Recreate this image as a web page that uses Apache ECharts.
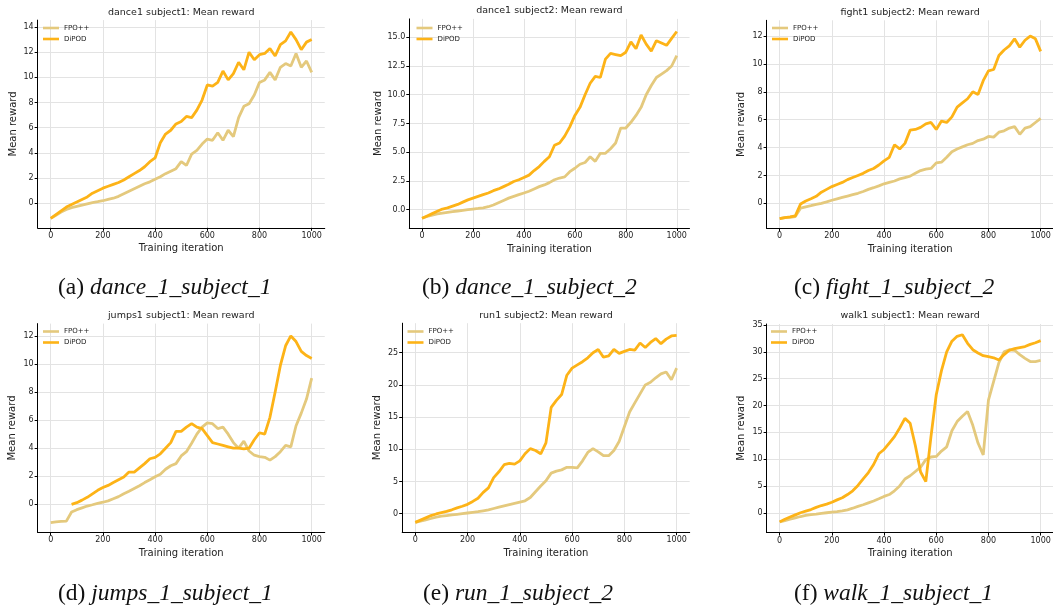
<!DOCTYPE html>
<html><head><meta charset="utf-8">
<script src="https://cdn.jsdelivr.net/npm/echarts@6/dist/echarts.min.js"></script>
<style>html,body{margin:0;padding:0;background:#fff}#c{width:1053px;height:612px}</style>
</head><body><div id="c"></div>
<script>
// ---------------- data ----------------
const iters = [0,20,40,60,80,100,120,140,160,180,200,220,240,260,280,300,320,340,360,380,400,
  420,440,460,480,500,520,540,560,580,600,620,640,660,680,700,720,740,760,780,800,
  820,840,860,880,900,920,940,960,980,1000];

const xTicks = [0,200,400,600,800,1000];
const seriesNames = ['FPO++','DiPOD'];

const panelTitles = ['dance1 subject1: Mean reward','dance1 subject2: Mean reward','fight1 subject2: Mean reward',
  'jumps1 subject1: Mean reward','run1 subject2: Mean reward','walk1 subject1: Mean reward'];
const captionLetters = ['(a)','(b)','(c)','(d)','(e)','(f)'];
const captionNames = ['dance_1_subject_1','dance_1_subject_2','fight_1_subject_2','jumps_1_subject_1','run_1_subject_2','walk_1_subject_1'];

const yTicksA = [0,2,4,6,8,10,12,14];
const yTicksB = [0,2.5,5,7.5,10,12.5,15];
const yTicksC = [0,2,4,6,8,10,12];
const yTicksD = [0,2,4,6,8,10,12];
const yTicksE = [0,5,10,15,20,25];
const yTicksF = [0,5,10,15,20,25,30,35];

const dance1s1Fpo = [-1.2,-0.95,-0.7,-0.5,-0.35,-0.25,-0.15,-0.05,0.05,0.12,0.2,0.3,0.4,0.55,0.75,0.95,1.15,1.35,1.55,1.7,1.9,
  2.1,2.35,2.55,2.75,3.3,3.0,3.9,4.2,4.7,5.1,5.0,5.6,5.0,5.8,5.3,6.8,7.7,7.9,8.6,9.6,9.8,10.4,9.8,10.8,11.1,10.9,11.9,10.8,11.3,10.4];
const dance1s1Dipod = [-1.2,-0.9,-0.6,-0.3,-0.1,0.1,0.3,0.5,0.8,1.0,1.2,1.35,1.5,1.65,1.85,2.1,2.35,2.6,2.9,3.3,3.6,
  4.8,5.5,5.8,6.3,6.5,6.9,6.8,7.4,8.2,9.4,9.3,9.6,10.5,9.8,10.3,11.2,10.6,12.0,11.4,11.8,11.9,12.3,11.7,12.6,12.9,13.6,13.0,12.2,12.8,13.0];

const dance1s2Fpo = [-0.75,-0.6,-0.48,-0.38,-0.3,-0.24,-0.18,-0.12,-0.06,0.0,0.05,0.1,0.16,0.25,0.4,0.6,0.8,1.0,1.15,1.3,1.45,
  1.6,1.8,2.0,2.15,2.35,2.6,2.75,2.85,3.3,3.6,3.95,4.1,4.6,4.2,4.9,4.9,5.3,5.8,7.1,7.1,7.6,8.2,8.9,10.0,10.8,11.5,11.8,12.1,12.5,13.4];
const dance1s2Dipod = [-0.75,-0.55,-0.35,-0.15,0.05,0.15,0.3,0.45,0.65,0.85,1.0,1.15,1.3,1.45,1.65,1.8,2.0,2.2,2.45,2.6,2.8,
  3.0,3.4,3.75,4.2,4.6,5.6,5.8,6.4,7.2,8.2,8.9,10.0,11.0,11.6,11.5,13.1,13.6,13.5,13.4,13.7,14.6,14.0,15.2,14.4,13.8,14.7,14.5,14.3,14.9,15.5];

const fight1s2Fpo = [-1.1,-1.03,-1.0,-0.95,-0.35,-0.25,-0.17,-0.08,0.0,0.1,0.22,0.32,0.42,0.52,0.62,0.72,0.85,1.0,1.12,1.25,1.4,
  1.5,1.6,1.75,1.85,1.95,2.15,2.35,2.45,2.5,2.9,2.95,3.3,3.7,3.9,4.05,4.2,4.3,4.5,4.6,4.8,4.75,5.1,5.2,5.4,5.5,4.95,5.4,5.5,5.8,6.1];
const fight1s2Dipod = [-1.1,-1.02,-0.98,-0.9,-0.05,0.17,0.33,0.5,0.8,1.0,1.2,1.35,1.5,1.7,1.85,2.0,2.15,2.35,2.5,2.75,3.05,
  3.3,4.2,3.9,4.3,5.25,5.3,5.45,5.7,5.8,5.3,5.9,5.8,6.2,6.9,7.2,7.5,8.0,7.8,8.8,9.5,9.6,10.6,11.0,11.3,11.8,11.2,11.7,12.0,11.8,10.9];

const jumps1s1Fpo = [-1.3,-1.25,-1.22,-1.2,-0.55,-0.38,-0.25,-0.12,-0.03,0.07,0.15,0.25,0.4,0.55,0.75,0.93,1.13,1.33,1.55,1.75,1.97,
  2.15,2.5,2.75,2.9,3.45,3.75,4.35,5.0,5.5,5.8,5.75,5.4,5.5,5.0,4.4,4.0,4.5,3.8,3.5,3.4,3.35,3.15,3.4,3.75,4.2,4.1,5.6,6.5,7.5,9.0];
const jumps1s1Dipod = [null,null,null,null,0.0,0.12,0.3,0.5,0.75,1.0,1.2,1.35,1.55,1.75,1.95,2.3,2.3,2.6,2.9,3.25,3.35,
  3.6,4.0,4.4,5.2,5.2,5.5,5.75,5.5,5.4,4.9,4.4,4.3,4.2,4.1,4.0,4.0,3.95,4.0,4.6,5.1,5.0,6.2,8.0,9.9,11.3,12.0,11.6,10.9,10.6,10.4];

const run1s2Fpo = [-1.35,-1.15,-0.95,-0.75,-0.55,-0.4,-0.3,-0.2,-0.1,0.0,0.1,0.2,0.3,0.45,0.6,0.8,1.0,1.2,1.4,1.6,1.8,
  2.0,2.5,3.4,4.3,5.1,6.3,6.6,6.8,7.2,7.2,7.1,8.2,9.5,10.1,9.6,9.0,9.0,9.8,11.2,13.5,15.8,17.2,18.6,20.0,20.4,21.1,21.7,22.0,20.8,22.6];
const run1s2Dipod = [-1.35,-1.0,-0.65,-0.3,-0.05,0.15,0.35,0.6,0.9,1.15,1.45,1.9,2.4,3.3,4.0,5.6,6.5,7.6,7.8,7.7,8.2,
  9.3,10.1,9.8,9.3,11.0,16.5,17.6,18.5,21.5,22.6,23.1,23.6,24.2,25.0,25.5,24.3,24.5,25.5,24.9,25.2,25.5,25.4,26.5,25.8,26.6,27.2,26.4,27.1,27.6,27.7];

const walk1s1Fpo = [-1.7,-1.45,-1.2,-0.95,-0.7,-0.5,-0.35,-0.25,-0.1,0.0,0.1,0.2,0.35,0.55,0.85,1.2,1.5,1.85,2.2,2.6,3.05,
  3.4,4.1,5.0,6.3,6.9,7.7,8.5,9.9,10.4,10.5,11.5,12.3,15.3,17.0,18.0,18.9,16.3,13.0,10.8,21.0,24.5,28.0,30.0,30.4,30.3,29.5,28.8,28.2,28.2,28.4];
const walk1s1Dipod = [-1.7,-1.2,-0.8,-0.4,0.0,0.3,0.6,1.0,1.35,1.6,1.95,2.4,2.8,3.4,4.1,5.1,6.3,7.5,9.0,11.0,11.8,
  13.0,14.2,15.8,17.6,16.7,12.5,7.6,5.8,14.3,22.0,26.5,30.0,32.0,32.9,33.2,31.6,30.4,29.8,29.3,29.1,28.9,28.5,29.5,30.3,30.6,30.8,31.0,31.4,31.7,32.1];

// ---------------- layout / style ----------------
const FPO_COLOR = '#E4C97D';
const DIPOD_COLOR = '#FDB317';
const SANS = 'DejaVu Sans';
const SERIF = 'Liberation Serif';

const panels = [
  {fpo: dance1s1Fpo, dipod: dance1s1Dipod, yTicks: yTicksA, ylim:[-1.95,14.55], dec:0, box:[37.65,20.1,287.1,207.7], yGap:19.5, cap:[58,288], leg:[43,24]},
  {fpo: dance1s2Fpo, dipod: dance1s2Dipod, yTicks: yTicksB, ylim:[-1.6,16.6], dec:1, box:[409.3,18.9,280.2,209.1], yGap:25, cap:[422,288], leg:[416.5,24]},
  {fpo: fight1s2Fpo, dipod: fight1s2Dipod, yTicks: yTicksC, ylim:[-1.8,13.13], dec:0, box:[766.6,20.3,287.1,208.1], yGap:20, cap:[794,288], leg:[772,24]},
  {fpo: jumps1s1Fpo, dipod: jumps1s1Dipod, yTicks: yTicksD, ylim:[-2.0,12.88], dec:0, box:[37.65,323.6,287.1,208.8], yGap:20, cap:[58,594], leg:[43,327.5]},
  {fpo: run1s2Fpo, dipod: run1s2Dipod, yTicks: yTicksE, ylim:[-2.88,29.58], dec:0, box:[402.2,323.2,287.5,209], yGap:19.5, cap:[423,594], leg:[407.5,327.5]},
  {fpo: walk1s1Fpo, dipod: walk1s1Dipod, yTicks: yTicksF, ylim:[-3.7,35.2], dec:0, box:[766.6,324,287.1,208.6], yGap:20, cap:[794,594], leg:[771,327.5]},
];

const grids = [], xAxes = [], yAxes = [], series = [], legends = [], graphics = [];
panels.forEach((p, i) => {
  const [l, t, w, h] = p.box;
  grids.push({left: l, top: t, width: w, height: h, outerBoundsMode: 'none', containLabel: false});
  xAxes.push({
    type: 'value', gridIndex: i, min: -50, max: 1050,
    name: 'Training iteration', nameLocation: 'middle', nameGap: 16,
    nameTextStyle: {fontFamily: SANS, fontSize: 10, color: '#222'},
    axisLine: {show: true, onZero: false, lineStyle: {color: '#000', width: 1}},
    axisTick: {show: true, customValues: xTicks, length: 3, lineStyle: {color: '#000'}},
    axisLabel: {customValues: xTicks, fontFamily: SANS, fontSize: 8, color: '#222', margin: 4,
      formatter: v => String(Math.round(v))},
    splitLine: {show: true, lineStyle: {color: '#e3e3e3', width: 1}}
  });
  yAxes.push({
    type: 'value', gridIndex: i, min: p.ylim[0], max: p.ylim[1],
    name: 'Mean reward', nameLocation: 'middle', nameGap: p.yGap,
    nameTextStyle: {fontFamily: SANS, fontSize: 10, color: '#222'},
    axisLine: {show: true, onZero: false, lineStyle: {color: '#000', width: 1}},
    axisTick: {show: true, customValues: p.yTicks, length: 3, lineStyle: {color: '#000'}},
    axisLabel: {customValues: p.yTicks, fontFamily: SANS, fontSize: 8, color: '#222', margin: 4,
      formatter: v => Number(v).toFixed(p.dec)},
    splitLine: {show: true, lineStyle: {color: '#e3e3e3', width: 1}}
  });
  [[p.fpo, FPO_COLOR, 0], [p.dipod, DIPOD_COLOR, 1]].forEach(([vals, col, k]) => {
    const data = [];
    iters.forEach((x, j) => { if (vals[j] !== null) data.push([x, vals[j]]); });
    series.push({
      type: 'line', name: seriesNames[k], xAxisIndex: i, yAxisIndex: i, data: data,
      showSymbol: false, symbol: 'none', smooth: false, z: 2 + k,
      lineStyle: {color: col, width: 2.8}, itemStyle: {color: col}
    });
  });
  legends.push({
    data: seriesNames, left: p.leg[0], top: p.leg[1], orient: 'vertical',
    icon: 'rect', itemWidth: 16, itemHeight: 2.6, itemGap: 3, selectedMode: false, padding: 0,
    textStyle: {fontFamily: SANS, fontSize: 7, color: '#222', lineHeight: 8}
  });
  graphics.push({
    type: 'text', x: l + w / 2, y: t - 8,
    style: {text: panelTitles[i], font: '9.5px "' + SANS + '"', fill: '#222', textAlign: 'center', textVerticalAlign: 'middle'}
  });
  graphics.push({
    type: 'text', x: p.cap[0], y: p.cap[1],
    style: {
      text: '{u|' + captionLetters[i] + ' }{it|' + captionNames[i] + '}',
      textVerticalAlign: 'middle', textAlign: 'left',
      rich: {
        u: {fontFamily: SERIF, fontSize: 23.5, fill: '#111', color: '#111'},
        it: {fontFamily: SERIF, fontSize: 23.5, fontStyle: 'italic', fill: '#111', color: '#111'}
      }
    }
  });
});

const chart = echarts.init(document.getElementById('c'), null, {renderer: 'canvas'});
chart.setOption({
  backgroundColor: '#fff', animation: false,
  grid: grids, xAxis: xAxes, yAxis: yAxes, series: series, legend: legends, graphic: graphics
});
</script></body></html>
